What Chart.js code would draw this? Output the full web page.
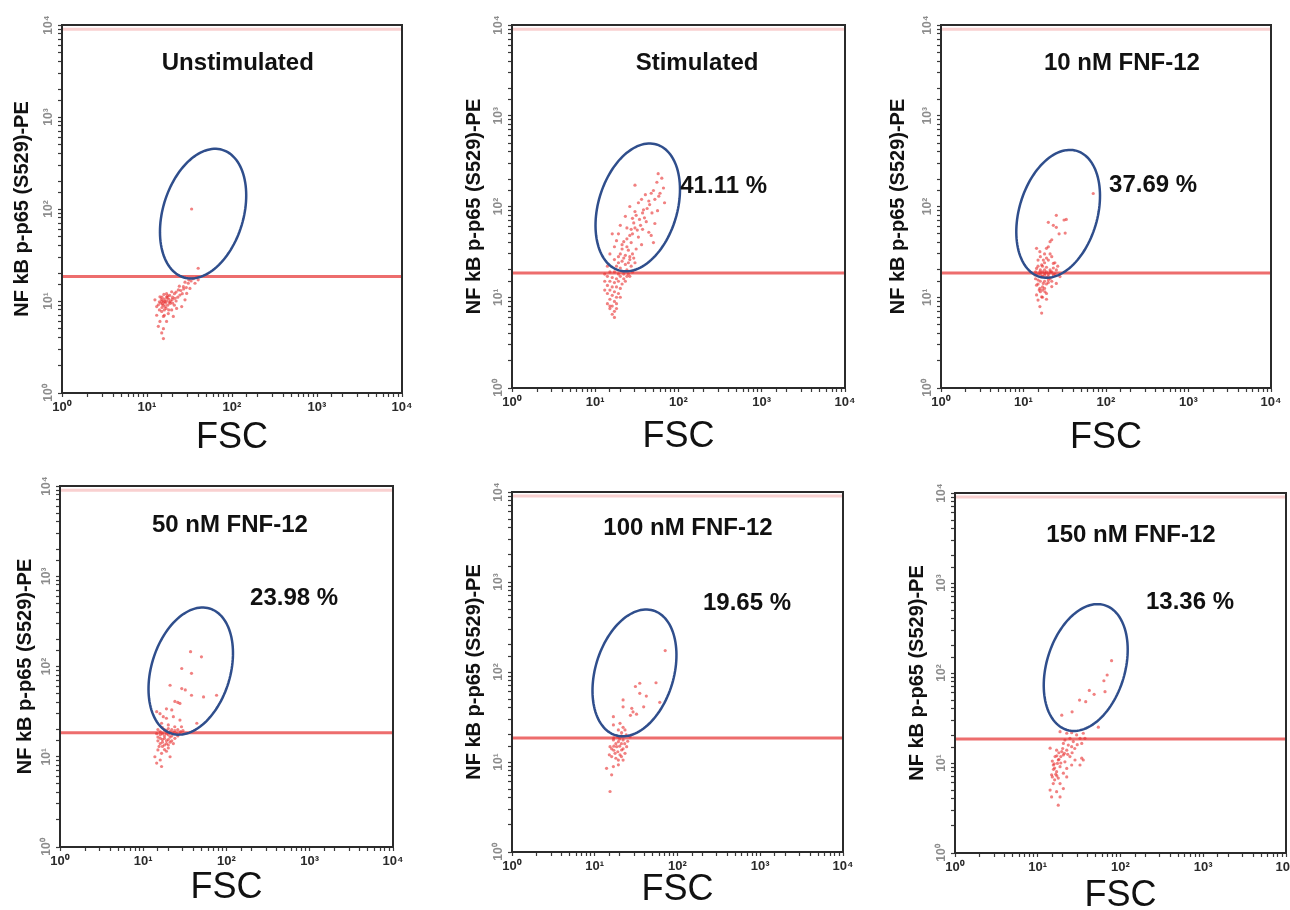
<!DOCTYPE html>
<html>
<head>
<meta charset="utf-8">
<title>NF kB p-p65 (S529) flow cytometry</title>
<script src="https://cdn.jsdelivr.net/npm/chart.js@4.4.1/dist/chart.umd.min.js"></script>
<style>
  html, body { margin: 0; padding: 0; background: #fff; overflow: hidden; }
  #figure { position: relative; width: 1290px; height: 910px; }
  #figure canvas { position: absolute; }
</style>
</head>
<body>
<div id="figure"></div>
<script>
const FONT = '"Liberation Sans", Arial, Helvetica, sans-serif';
Chart.defaults.font.family = FONT;

// ---- data ----
const panelTitles = ['Unstimulated', 'Stimulated', '10 nM FNF-12', '50 nM FNF-12', '100 nM FNF-12', '150 nM FNF-12'];
const gatePercents = ['', '41.11 %', '37.69 %', '23.98 %', '19.65 %', '13.36 %'];
const decadeLabels = ['10⁰', '10¹', '10²', '10³', '10⁴'];
const xAxisTitle = 'FSC';
const yAxisTitle = 'NF kB p-p65 (S529)-PE';
const thresholdPE = 18.5;
const upperMarkerPE = 9000;
// gate centre (FSC, PE) per panel
const gateCenters = [[45.7, 89], [32.4, 97.7], [26.3, 83], [37.2, 89], [30.2, 97.7], [38, 115]];

// events as [FSC, PE]
const unstimulatedEvents = [
  [33.5,100],[40,22.7],[36.7,15.6],[30.6,15.6],[32,13.7],[26.8,14.3],[23.4,13.2],[19.5,12.6],[24.4,11.6],[21.3,10.7],
  [29.3,12.1],[28,10.3],[17,11.1],[14.2,11.1],[15.6,9.8],[18.7,9.4],[13.6,9.1],[16.3,8.7],[19.5,8],[22.3,8.3],
  [25.6,8.7],[14.9,7.7],[17.8,7.3],[13,7],[15.6,6.8],[20.4,6.8],[14.2,6],[17,6],[13.6,5.3],[15.6,5],
  [14.9,4.5],[15.6,3.9],[12.4,10.3],[13,8.7],[14.5,9.5],[15,10],[15.5,9],[16,10.5],[16.5,9.5],[17,10],
  [17.5,9],[18,10.5],[15,8.5],[16,8],[14,9.8],[18.5,11.5],[19,10],[20,11],[21,12],[22,12.5],
  [23,11],[25,13],[27,13.5],[33,16.5],[35,17.5],[31,17],[28,16],[38,18],[26,12],[17,12],
  [15,11],[16,7],[18,8],[14,8],[20,9.5],[22,10],[24,14.5],[40,17],[29,14],[21,9],
  [15.2,9.3],[16.2,9.9],[17.3,10.8],[14.8,10.4],[16.8,8.3],[18.3,9.7],[19.8,10.4],[15.8,11.8],[17.6,11.4]
];
const stimulatedEvents = [
  [57,230],[63,205],[55,185],[30,172],[66,160],[50,150],[47,140],[40,135],[58,130],[36,120],
  [33,110],[44,115],[68,110],[26,100],[30,88],[37,85],[48,85],[56,90],[23,78],[28,74],
  [34,72],[41,68],[52,65],[20,62],[24,58],[30,58],[37,56],[44,52],[16,50],[19,50],
  [26,48],[33,46],[47,48],[18,42],[22,41],[27,40],[36,38],[50,40],[17,36],[21,34],
  [25,33],[31,34],[15,30],[19,28],[23,29],[28,30],[17,26],[21,25],[25,24],[30,24],
  [14,22],[18,22],[20,21],[24,20],[27,22],[15,19],[17,19],[19,18],[22,18],[25,18],
  [28,19],[13,18],[20,30],[22,27],[24,36],[26,28],[19,24],[23,23],[26,26],[29,27],
  [21,38],[24,44],[28,50],[32,55],[35,62],[39,75],[42,95],[45,105],[52,120],[60,140],
  [38,92],[29,66],[31,80],[27,56],
  [14,17],[16,16.5],[18,16],[20,17],[22,16],[15,15],[17,14.5],[19,15],[21,14],[23,15],
  [14,13.5],[16,13],[18,13],[20,12.5],[15,12],[17,11.5],[19,11],[14,11],[16,10.5],[18,10],
  [15,9.5],[17,9],[14,8.5],[16,8],[18,8.5],[15,7.5],[17,7],[16,6.5],[17,6],[18,7.5],
  [13,12],[13,15],[24,17],[26,17],[20,10],[15,8]
];
const tenNMEvents = [
  [70,139],[25,80],[33,72],[31,71],[20,67],[23,62],[25,59],[32,51],[27,50],[22,43],
  [21,41],[14.4,34.6],[15.8,31.8],[19,34.6],[22,28],[17.4,25.7],[20,25.7],[15,25.7],[23,23.6],[16.6,22.7],
  [19,21.4],[14.4,20.8],[21,20],[25,20],[15.8,19],[18.2,18.4],[13.8,17.6],[23,17.6],[16.6,16.9],[15,15.5],
  [20,15.5],[17.4,14.2],[14.4,13.6],[22,13.1],[15.8,12.5],[18.2,11.5],[14.4,10.6],[16.6,10.1],[19,11],[15,9.3],
  [25,14.2],[27.7,16.9],[15.8,7.9],[16.6,6.7],[16,20],[17,19],[18,20],[19,19],[20,18],[21,19],
  [16,18],[17,17],[18,17.5],[19,16.5],[20,17],[22,19],[15,18],[14,19],[16,15],[18,15],
  [19,14],[17,13],[21,16],[23,21],[24,24],[18,24],[17,22],[19,27],[16,28],[21,30],
  [18,30],[20,36],[15,22],[17,12],[15,14],[16,11.5],[18,12.5],[14,16],[20,14.5],[22,15],
  [24,18],[26,22],[19,9.5],[17,10],[15.5,12]
];
const fiftyNMEvents = [
  [37,146],[50,128],[29,95],[38,84],[21,62],[29,57],[32,55],[76,48],[38,48],[53,46],
  [24,41],[26,40],[27.6,39],[19,34],[22,33],[14.5,31.6],[15.9,30],[17.4,27.8],[19,26.7],[23,27.8],
  [27.6,25.5],[16.6,23.5],[20,22.5],[23.9,21.5],[28.8,21.5],[44,23.5],
  [15,20],[16,19],[17,21],[18,20],[19,19.5],[20,20.5],[21,19],[22,20],[24,19.5],[26,20],
  [28,19],[30,19.5],[16,17.5],[17,18],[18,17],[19,18],[20,17.5],[21,16.5],[22,17],[15,16.5],
  [16,16],[17,15.5],[18,16],[19,15],[20,15.5],[21,14.5],[15,15],[16,14],[17,14.5],[18,13.5],
  [19,14],[22,15],[24,16],[26,17],[23,18.5],[25,18],[14.5,18],[15.5,13],[17,13],[20,13.5],
  [23,14],[15,11.9],[16.6,10.9],[19,11.5],[13.8,10],[21,10],[16,9.2],[14.5,8.5],[16.6,7.8],[18,12],
  [20,12.5]
];
const hundredNMEvents = [
  [71,173],[35,75],[31,69],[55,76],[35,58],[42,54],[61,46],[22,49],[39,41],[22,41],
  [28,39.5],[29,36],[32,34],[27,33],[16.8,31.9],[20.2,26.9],[22,24.3],[23.2,22.7],[16.8,25.8],[19.3,22.7],
  [21.1,21.2],[16.8,17.6],[19.3,16.8],[22,17.6],[26.7,19.1],[15.3,14.8],[18.4,14.8],[21.1,13.6],[24.3,14.8],[17.6,12.5],
  [20.2,12],[23.2,12.5],[16,11.5],[19.3,10.5],[13.9,8.5],[16.8,8.9],[19.3,9.3],[16,7.2],[15.3,4.7],
  [18,16],[20,15],[21,16],[17,15],[19,13],[22,14],[18,11],[21,11.5],[17,13.5],[20,18],
  [23,16],[25,17],[16,14],[15,12],[22,10.5],[19,19],[17,18.5],[24,20],[21,19.5]
];
const hundredFiftyNMEvents = [
  [78,137],[69,95],[63,82],[65,62],[42,64],[48,58],[32,50],[38,48],[26,37],[19.5,34],
  [54,25],[18.6,22.3],[22.4,21.4],[25.7,21.7],[29.5,20.5],[35.5,21.4],[24.5,18.8],[32.4,18.8],[37.2,18.8],[21.3,18],
  [26.9,17.3],[20.4,16.5],[23.4,15.8],[34,16.5],[25.7,15.2],[14.1,14.6],[16.9,13.9],[19.5,13.4],[22.4,13.9],[16.2,11.8],
  [20.4,12.3],[24.5,11.8],[17.7,10.8],[21.3,10.3],[28.2,10.8],[34,11.3],[15.4,9.5],[18.6,9.1],[22.4,8.7],[25.7,9.5],
  [16.9,8],[20.4,7.7],[14.7,7.4],[17.7,6.8],[22.4,7],[15.4,5.9],[18.6,5.9],[14.1,5],[16.9,4.8],[20.4,5.2],
  [14.7,4.2],[18.6,4.2],[17.7,3.4],[35.5,10.8],[32.4,9.5],[15.5,8.5],[16,8.8],[16.5,7.5],[15,7],[16,6.5],
  [17,7.2],[15.8,9.8],[17.3,9.9],[18,11],[19,11.8],[21,12.8],[23,12.5],[20,14.5],[18,13],[26,13],
  [28,14.5],[30,16],[17,12],[19,10],[15,10.5]
];
const allEvents = [unstimulatedEvents, stimulatedEvents, tenNMEvents, fiftyNMEvents, hundredNMEvents, hundredFiftyNMEvents];

// ---- layout ----
// plot box on the page [left, top, right, bottom], axis title spots, text anchors in data units
const panels = [
  { plot: [62, 25, 402, 393],   yTitleX: 22,  xTitleY: 438, titleAt: [117, 3870], pctAt: null },
  { plot: [512, 25, 845, 388],  yTitleX: 474, xTitleY: 437, titleAt: [167, 3800], pctAt: [105, 168] },
  { plot: [941, 25, 1271, 388], yTitleX: 898, xTitleY: 438, titleAt: [156, 3800], pctAt: [109, 173] },
  { plot: [60, 486, 393, 847],  yTitleX: 25,  xTitleY: 888, titleAt: [110, 3700], pctAt: [192, 575] },
  { plot: [512, 492, 843, 852], yTitleX: 474, xTitleY: 890, titleAt: [134, 3980], pctAt: [203, 585] },
  { plot: [955, 493, 1286, 853],yTitleX: 917, xTitleY: 896, titleAt: [134, 3400], pctAt: [203, 615] }
];
const gateMajor = 0.73, gateMinor = 0.47, gateTilt = 20 * Math.PI / 180; // decades
const Y_AXIS_W = 56, PAD_TOP = 20, PAD_RIGHT = 20;

function decadeLabel(value) {
  const e = Math.round(Math.log10(value));
  return Math.abs(Math.log10(value) - e) < 1e-9 ? decadeLabels[e] : '';
}

const flowPlugin = {
  id: 'flow',
  afterDatasetsDraw(chart, args, opts) {
    const { ctx, chartArea: a } = chart;
    const xs = chart.scales.x, ys = chart.scales.y;
    const i = opts.index, p = panels[i];
    const cx = Math.log10(gateCenters[i][0]), cy = Math.log10(gateCenters[i][1]);

    ctx.save();
    // gate
    ctx.beginPath();
    for (let d = 0; d <= 360; d += 3) {
      const t = d * Math.PI / 180;
      const u = gateMajor * Math.cos(t), v = gateMinor * Math.sin(t);
      const lx = cx + u * Math.sin(gateTilt) + v * Math.cos(gateTilt);
      const ly = cy + u * Math.cos(gateTilt) - v * Math.sin(gateTilt);
      const px = xs.getPixelForValue(Math.pow(10, lx)), py = ys.getPixelForValue(Math.pow(10, ly));
      if (d === 0) ctx.moveTo(px, py); else ctx.lineTo(px, py);
    }
    ctx.closePath();
    ctx.strokeStyle = '#2f4e8c';
    ctx.lineWidth = 2.5;
    ctx.stroke();

    // frame
    ctx.strokeStyle = '#2b2b2b';
    ctx.lineWidth = 2;
    ctx.strokeRect(a.left, a.top, a.right - a.left, a.bottom - a.top);

    // texts
    ctx.fillStyle = '#111';
    ctx.font = 'bold 24px ' + FONT;
    ctx.textBaseline = 'middle';
    ctx.textAlign = 'center';
    ctx.fillText(panelTitles[i], xs.getPixelForValue(p.titleAt[0]), ys.getPixelForValue(p.titleAt[1]));
    if (p.pctAt) {
      ctx.textAlign = 'left';
      ctx.fillText(gatePercents[i], xs.getPixelForValue(p.pctAt[0]), ys.getPixelForValue(p.pctAt[1]));
    }
    ctx.restore();
  }
};

const fig = document.getElementById('figure');

panels.forEach((p, i) => {
  const [L, T, R, B] = p.plot;
  const left = L - Y_AXIS_W, top = T - PAD_TOP;
  const scaleBottom = p.xTitleY + 18;
  const xAxisH = scaleBottom - B;
  const canvas = document.createElement('canvas');
  canvas.width = R + PAD_RIGHT - left;
  canvas.height = scaleBottom - top;
  canvas.style.left = left + 'px';
  canvas.style.top = top + 'px';
  canvas.style.width = canvas.width + 'px';
  canvas.style.height = canvas.height + 'px';
  fig.appendChild(canvas);

  const grid = { drawOnChartArea: false, drawTicks: true, tickLength: 4, tickColor: '#3a3a3a', tickWidth: 1.2 };

  new Chart(canvas, {
    type: 'scatter',
    data: {
      datasets: [
        {
          label: 'events',
          data: allEvents[i].map(([fsc, pe]) => ({ x: fsc, y: pe })),
          pointRadius: 1.6,
          pointHoverRadius: 1.6,
          pointBackgroundColor: 'rgba(232, 45, 45, 0.6)',
          pointBorderWidth: 0
        },
        {
          label: 'threshold',
          data: [{ x: 1, y: thresholdPE }, { x: 10000, y: thresholdPE }],
          showLine: true,
          borderColor: 'rgba(234, 84, 84, 0.85)',
          borderWidth: 3,
          pointRadius: 0
        },
        {
          label: 'upper',
          data: [{ x: 1, y: upperMarkerPE }, { x: 10000, y: upperMarkerPE }],
          showLine: true,
          borderColor: 'rgba(244, 170, 170, 0.55)',
          borderWidth: 3,
          pointRadius: 0
        }
      ]
    },
    options: {
      responsive: false,
      animation: false,
      events: [],
      layout: { padding: { top: PAD_TOP, right: PAD_RIGHT, left: 0, bottom: 0 } },
      plugins: { legend: { display: false }, tooltip: { enabled: false }, flow: { index: i } },
      scales: {
        x: {
          type: 'logarithmic', min: 1, max: 10000, position: 'bottom',
          border: { display: true, color: '#2b2b2b', width: 2 },
          grid: grid,
          ticks: {
            autoSkip: false, minRotation: 0, maxRotation: 0, padding: 3,
            color: '#2a2a2a', font: { size: 13, weight: 'bold' },
            callback: decadeLabel
          },
          title: { display: true, text: xAxisTitle, color: '#111', font: { size: 36, lineHeight: 1 }, padding: { top: 0, bottom: 0 } },
          afterFit: s => { s.height = xAxisH; s.paddingLeft = 0; s.paddingRight = 0; }
        },
        y: {
          type: 'logarithmic', min: 1, max: 10000, position: 'left',
          border: { display: true, color: '#2b2b2b', width: 2 },
          grid: grid,
          ticks: {
            autoSkip: false, minRotation: 90, maxRotation: 90, crossAlign: 'center', padding: 0,
            color: '#8c8c8c', font: { size: 12, weight: 'bold' },
            callback: decadeLabel
          },
          title: { display: true, text: yAxisTitle, color: '#111', font: { size: 20, weight: 'bold', lineHeight: 1 }, padding: { top: p.yTitleX - left - 10, bottom: 0 } },
          afterFit: s => { s.width = Y_AXIS_W; s.paddingTop = 0; s.paddingBottom = 0; }
        }
      }
    },
    plugins: [flowPlugin]
  });
});
</script>
</body>
</html>
